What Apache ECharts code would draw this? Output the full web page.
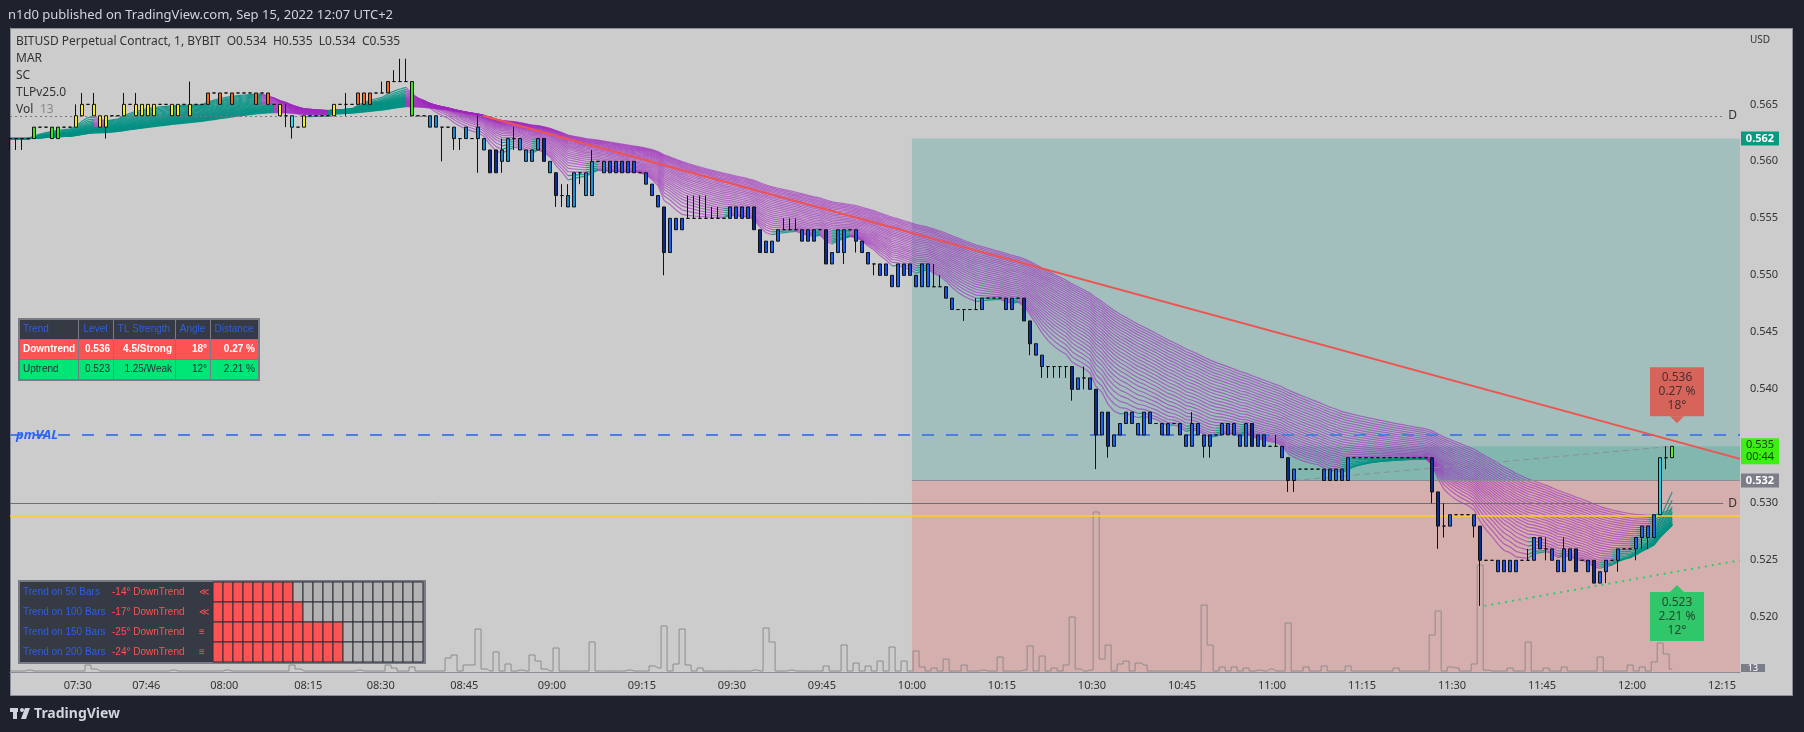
<!DOCTYPE html>
<html><head><meta charset="utf-8">
<script src="https://cdn.jsdelivr.net/npm/echarts@6/dist/echarts.min.js"></script>
<style>
html,body{margin:0;background:#1e222d;width:1804px;height:732px;overflow:hidden}
#frame{position:absolute;left:10px;top:28px;width:1781px;height:666px;background:#cccccc;border:1px solid #8a8d96}
#c{position:absolute;left:0;top:0;width:1804px;height:732px}
</style></head><body><div id="frame"></div><div id="c"></div>
<script>
// prices in thousandths of USD: [open, close, low?, high?]
const bars = [
[562,562,561,562],[562,562,561,562],[562,562,561,562],[562,562],[562,563],[563,563],[563,563],[562,563],[562,563],[563,563],
[563,563],[563,564,563,565],[564,565,564,566],[565,565],[565,564,564,566],[564,563],[564,563,562,564],[564,564],[564,564],[564,565,564,566],
[565,565],[564,565,564,566],[564,565],[564,565],[564,565],[565,565],[565,565],[564,565],[564,565],[565,565],
[564,565,564,567],[565,565],[565,565],[565,566],[566,566],[565,566],[566,566],[565,566],[566,566],[566,566],
[566,566],[565,566],[566,566],[566,565],[565,565],[565,564],[564,564,563,565],[564,563,562,564],[563,563],[564,563],
[564,564],[564,564],[564,564],[564,564],[564,565],[565,565],[565,565,564,566],[565,565],[565,566],[565,566],
[565,566],[566,566],[566,566,566,567],[566,567],[567,567,567,568],[567,567,567,569],[567,567,567,569],[567,564],[564,564],[564,564],
[564,563],[564,563],[563,563,560,563],[563,563],[563,562,561,563],[562,562,561,562],[563,562],[562,562],[563,562,559,564],[562,561],
[561,559],[561,559],[561,560,559,562],[560,562],[562,562,561,563],[562,561],[561,560],[561,560],[561,562],[562,560],
[560,559],[559,557,556,559],[557,557,556,558],[557,556,556,558],[556,559],[559,559,558,559],[557,559],[557,560,557,561],[560,560],[560,559],
[560,559],[560,559],[560,559],[560,559],[560,559],[559,559],[559,558],[558,557],[557,556,556,557],[556,552,550,556],
[552,555],[555,554],[555,554],[555,555,555,557],[555,555,555,557],[555,555,555,557],[555,555,555,557],[555,555,555,556],[555,555,555,556],[555,555],
[555,556],[556,555],[556,555],[556,555],[556,554],[554,552],[553,552],[552,553],[553,554],[554,554,554,555],
[554,554,554,555],[554,554,554,555],[554,553],[554,553],[554,553],[554,554],[554,551],[551,552],[552,554],[552,554,551,554],
[554,554],[554,553,552,554],[553,552],[552,551],[551,551,550,551],[551,550],[551,550],[550,549],[549,551],[551,550],
[551,550],[550,549],[549,551],[549,551],[549,549,549,551],[549,549,549,550],[549,548],[548,547],[547,547],[547,547,546,547],
[547,547],[547,547,547,548],[547,548],[548,548],[548,548],[548,548],[548,547],[548,547],[548,548],[548,546],
[546,544,543,546],[544,543],[543,542,541,543],[542,542,541,542],[542,542,541,542],[542,542,541,542],[542,542,541,542],[542,540,539,542],[540,541],[541,541,540,542],
[541,540],[540,536,533,540],[536,538],[538,535,534,538],[535,536],[536,537],[537,538],[538,537],[536,537],[536,538],
[538,537],[537,537],[537,536],[537,536],[537,537],[537,536],[536,535],[535,537,535,538],[537,536],[536,535,534,536],
[536,535,534,536],[536,536],[536,537],[537,536],[537,536],[536,535],[535,537],[537,535],[536,535],[536,535],
[535,535],[535,535,535,536],[535,534],[534,532,531,534],[532,533,531,533],[533,533],[533,533],[533,533],[533,533],[533,532],
[533,532],[532,533],[533,532],[532,534],[534,534],[534,534],[534,534],[534,534],[534,534],[534,534],
[534,534],[534,534],[534,534],[534,534],[534,534],[534,534],[534,534],[534,531,530,534],[531,528,526,531],[528,528,527,530],
[528,529],[529,529],[529,529],[529,529],[529,528,527,529],[528,525,521,528],[525,525],[525,525],[525,524],[525,524],
[524,525],[525,524],[525,525],[525,525,525,526],[525,527],[527,526],[526,526,525,527],[526,525],[525,524],[524,526,524,527],
[526,525],[526,524],[525,525],[525,524],[525,523],[523,524],[524,525,523,525],[525,525],[525,526,524,526],[526,526],
[526,526],[526,527,525,527],[527,528,526,528],[527,528,526,528],[527,529],[529,534],[534,534,533,535],[534,535]
];
// volume peaks [bar index, volume]; other bars ~1
const volPeaks = [[3,2],[13,7],[14,3],[27,2],[36,2],[47,7],[48,3],[58,2],[63,7],[64,4],[67,5],[73,14],[74,17],[76,7],[77,7],[78,43],[79,3],[81,20],[83,8],[85,2],[87,17],[88,11],[89,3],[91,24],[97,30],[103,2],[107,6],[108,4],[109,46],[111,8],[112,43],[113,7],[115,4],[124,2],[126,44],[127,30],[130,2],[136,6],[139,27],[141,9],[143,6],[145,11],[147,25],[149,11],[151,21],[152,5],[154,4],[156,13],[159,7],[162,2],[165,15],[169,2],[170,26],[172,16],[174,4],[176,7],[177,55],[178,3],[180,2],[181,160],[182,13],[183,27],[185,8],[186,11],[188,9],[189,7],[199,67],[200,27],[202,5],[204,5],[206,4],[208,2],[210,3],[213,49],[216,5],[219,6],[223,6],[231,4],[237,37],[238,61],[240,5],[241,4],[244,8],[245,107],[246,2],[250,4],[253,30],[256,4],[259,5],[265,15],[270,7],[272,5],[274,10],[275,29],[276,18],[277,3]];
const tickPos = [11.3,22.7,35.7,49.7,61.8,75.7,90.3,105.3,120.3,135.3,150.3,165.3,180.3,195.3,210.3,225.3,240.3,255.3,270.3,285.3];
const tickLabels = ['07:30','07:46','08:00','08:15','08:30','08:45','09:00','09:15','09:30','09:45','10:00','10:15','10:30','10:45','11:00','11:15','11:30','11:45','12:00','12:15'];
const priceTicks = [520,525,530,535,540,545,550,555,560,565];
const emaLens = [8,10,12,14,16,18,20,22,24,26,28,30,32,34,36,38,40,42,44,46,48,50,52,54,56,58,60];
const trendHead = ['Trend','Level','TL Strength','Angle','Distance'];
const trendDown = ['Downtrend','0.536','4.5/Strong','18°','0.27 %'];
const trendUp = ['Uptrend','0.523','1.25/Weak','12°','2.21 %'];
const multiNames = ['Trend on 50 Bars','Trend on 100 Bars','Trend on 150 Bars','Trend on 200 Bars'];
const multiVals = ['-14° DownTrend','-17° DownTrend','-25° DownTrend','-24° DownTrend'];
const multiSym = ['≪','≪','≡','≡'];
const multiRed = [8,9,13,13];

const YMIN=515.2, YMAX=571.7, XMAX=288.3;
const closes = bars.map(b=>b[1]);
const emas = emaLens.map(L=>{const a=2/(L+1);let e=closes[0];return closes.map(c=>(e=e+a*(c-e)));});
const vol = bars.map(()=>1); volPeaks.forEach(([i,v])=>vol[i]=v);

function barColor(i,o,c){
  if(i===275) return '#19d3ec'; if(i===277) return '#5cf21f';
  if(o===c) return '#111';
  if(i<68){ if(i===67) return '#3fe21a'; if(i===47) return '#22e0ee';
    const t=Math.max(o,c); return t>=566?'#f26a1b':(t>=564?'#f5ee1a':'#3fe21a'); }
  if(c>o) return i<100?'#1a8fd6':'#1a62f0';
  return (o-c)>=2?'#0b2a8f':(i<100?'#1585cc':'#1550e6');
}
const candleData = bars.map((b,i)=>{const o=b[0],c=b[1];const col=barColor(i,o,c);
  return {value:[i,o,c,b[2]??Math.min(o,c),b[3]??Math.max(o,c)],itemStyle:{color:col,color0:col,borderColor:'#111',borderColor0:'#111',borderWidth:1}};});

const F='"Noto Sans", "DejaVu Sans", sans-serif';
const FA='"Liberation Sans", Arial, sans-serif';
const chart = echarts.init(document.getElementById('c'),null,{renderer:'canvas'});
const opt = {
  animation:false,
  grid:{left:10,right:64,top:28,bottom:60,show:false},
  xAxis:{type:'value',min:0,max:XMAX,splitLine:{show:false},axisLine:{show:true,lineStyle:{color:'#8a8d96'}},axisTick:{show:false},
    axisLabel:{customValues:tickPos,formatter:v=>{const k=tickPos.findIndex(p=>Math.abs(p-v)<0.01);return k>=0?tickLabels[k]:'';},color:'#333',fontSize:11,fontFamily:F,margin:8,showMinLabel:true,showMaxLabel:true}},
  yAxis:[{type:'value',position:'right',min:YMIN,max:YMAX,splitLine:{show:false},axisLine:{show:true,lineStyle:{color:'#8a8d96'}},axisTick:{show:false},
    axisLabel:{customValues:priceTicks,formatter:v=>(v/1000).toFixed(3),color:'#333',fontSize:11,fontFamily:F,margin:10}},
    {type:'value',min:0,max:644,show:false}],
  series:[
    {type:'line',data:[[0,null]],silent:true,z:1,markArea:{silent:true,data:[
      [{coord:[150.3,562],itemStyle:{color:'#a2bfbd'}},{coord:[XMAX,532]}],
      [{coord:[150.3,532],itemStyle:{color:'#d5afad'}},{coord:[XMAX,YMIN]}],
      [{coord:[213,532],itemStyle:{color:'#82b7b0'}},{coord:[XMAX,535]}]]}},
    {type:'line',data:[[0,null]],silent:true,z:2,markLine:{silent:true,symbol:'none',label:{show:false},data:[
      [{coord:[0,564],lineStyle:{color:'#77787e',type:[2,3],width:1},label:{show:true,position:'end',formatter:'D',color:'#333',fontSize:12,fontFamily:F}},{coord:[285.5,564]}],
      [{coord:[150.3,532],lineStyle:{color:'#8a8d96',type:'solid',width:1}},{coord:[XMAX,532]}],
      [{coord:[0,530],lineStyle:{color:'#6e6e73',type:'solid',width:1},label:{show:true,position:'end',formatter:'D',color:'#333',fontSize:12,fontFamily:F}},{coord:[285.5,530]}],
      [{coord:[0,528.9],lineStyle:{color:'#ffd11a',type:'solid',width:1.5}},{coord:[XMAX,528.9]}],
      [{coord:[0,536],lineStyle:{color:'#4a7fe0',type:[12,12],width:2}},{coord:[XMAX,536]}],
      [{coord:[78.8,564],lineStyle:{color:'#ef5350',type:'solid',width:2}},{coord:[XMAX,533.9]}],
      [{coord:[245.7,521],lineStyle:{color:'#2ecc71',type:[2,5],width:2}},{coord:[XMAX,525]}],
      [{coord:[214,532],lineStyle:{color:'#8d8f94',type:[6,4],width:1}},{coord:[277,535]}]]}},
    {type:'line',yAxisIndex:1,data:vol.map((v,i)=>[i,v]),step:'middle',showSymbol:false,silent:true,z:3,lineStyle:{color:'#8c8c8f',width:1}},
    {type:'custom',z:4,silent:true,data:bars.map((b,i)=>[i]),renderItem:(p,api)=>{const i=api.value(0);if(i<1)return;const ch=[];
      for(let k=emas.length-1;k>=0;k--){const a=api.coord([i-1,emas[k][i-1]]),b=api.coord([i,emas[k][i]]);const up=emas[k][i]>=emas[k][i-1]-1e-6;
        ch.push({type:'line',shape:{x1:a[0],y1:a[1],x2:b[0],y2:b[1]},style:{stroke:up?'rgba(0,145,130,0.85)':'rgba(160,40,190,0.62)',lineWidth:1.2}});}
      return {type:'group',children:ch};}},
    {type:'candlestick',z:5,data:candleData,encode:{x:0,y:[1,2,3,4]},barWidth:4}
  ]
};
chart.setOption(opt);

const px = (x,y)=>chart.convertToPixel({gridIndex:0},[x,y]);
const g = [];
const T=(x,y,text,o={})=>g.push({type:'text',x,y,style:Object.assign({text,fill:'#333',font:'12px '+F,textVerticalAlign:'middle'},o)});
const R=(x,y,w,h,fill,o={})=>g.push({type:'rect',shape:{x,y,width:w,height:h},style:Object.assign({fill},o)});
// header & footer
T(8,15,'n1d0 published on TradingView.com, Sep 15, 2022 12:07 UTC+2',{fill:'#d1d4dc',font:'13px '+F});
R(10,708,8,4,'#d1d4dc');R(13,708,4,11,'#d1d4dc');g.push({type:'circle',shape:{cx:22,cy:710,r:2},style:{fill:'#d1d4dc'}});
g.push({type:'polygon',shape:{points:[[25,708],[30,708],[26,719],[21,719]]},style:{fill:'#d1d4dc'}});
T(34,714,'TradingView',{fill:'#d1d4dc',font:'bold 14px '+F});
// legend
T(16,42,'BITUSD Perpetual Contract, 1, BYBIT  O0.534  H0.535  L0.534  C0.535');
T(16,59,'MAR');T(16,76,'SC');T(16,93,'TLPv25.0');T(16,110,'Vol');T(40,110,'13',{fill:'#888'});
T(1750,40,'USD',{font:'10px '+F});
// pmVAL
T(16,px(0,536)[1],'pmVAL',{fill:'#2962ff',font:'italic bold 13px '+F});
// trend table
const cx=[20,78,113,175,210,258], ry=[320,339,359,379];
R(18,318,242,63,'#787b86');
[[trendHead,'#363a45','#2f5ee0',''],[trendDown,'#ff5252','#fff','bold '],[trendUp,'#00e676','#2a2e39','']].forEach((row,r)=>{
  row[0].forEach((t,k)=>{R(cx[k]+(k?1:0),ry[r]+(r?1:0),cx[k+1]-cx[k]-(k?1:0),ry[r+1]-ry[r]-(r?1:0),row[1]);
    if(r===0) T(k===0?cx[k]+3:(cx[k]+cx[k+1])/2,(ry[r]+ry[r+1])/2,t,{fill:row[2],font:row[3]+'10px '+FA,textAlign:k===0?'left':'center'});
    else T(k===0?cx[k]+3:cx[k+1]-3,(ry[r]+ry[r+1])/2,t,{fill:row[2],font:row[3]+'10px '+FA,textAlign:k===0?'left':'right'});});});
// multi trend table
R(18,580,408,84,'#787b86');
multiNames.forEach((n,r)=>{const y=582+r*20;R(20,y,193,20,'#363a45');
  T(23,y+10,n,{fill:'#2f5ee0',font:'10px '+FA});T(112,y+10,multiVals[r],{fill:'#ff5252',font:'10px '+FA});T(199,y+10,multiSym[r],{fill:'#ff5252',font:'10px '+FA});
  for(let k=0;k<21;k++) R(213+k*10,y,10,20,k<multiRed[r]?'#ff5252':'#b2b2b2',{stroke:'#2a2e39',lineWidth:1});});
// callouts
const tip1=px(277.8,536.4), tip2=px(277.8,523);
R(tip1[0]-27,tip1[1]-63,54,49,'#d6645b',{r:3} );
g.push({type:'polygon',shape:{points:[[tip1[0]-7,tip1[1]-14],[tip1[0]+7,tip1[1]-14],[tip1[0],tip1[1]-7]]},style:{fill:'#d6645b'}});
['0.536','0.27 %','18°'].forEach((t,k)=>T(tip1[0],tip1[1]-53+k*14,t,{textAlign:'center',fill:'#4a3030',font:'12px '+F}));
R(tip2[0]-27,tip2[1]+9,54,49,'#2fc76a',{r:3});
g.push({type:'polygon',shape:{points:[[tip2[0]-7,tip2[1]+9],[tip2[0]+7,tip2[1]+9],[tip2[0],tip2[1]+2]]},style:{fill:'#2fc76a'}});
['0.523','2.21 %','12°'].forEach((t,k)=>T(tip2[0],tip2[1]+19+k*14,t,{textAlign:'center',fill:'#1f4a2e',font:'12px '+F}));
// price axis badges
const y562=px(0,562)[1], y535=px(0,535)[1], y532=px(0,532)[1];
R(1741,y562-7,38,14,'#089981');T(1760,y562,'0.562',{fill:'#fff',font:'bold 11px '+F,textAlign:'center'});
R(1741,y535-8,38,26,'#3bf012');T(1760,y535-1,'0.535',{fill:'#1a3a10',font:'11px '+F,textAlign:'center'});T(1760,y535+11,'00:44',{fill:'#1a3a10',font:'11px '+F,textAlign:'center'});
R(1741,y532-7,38,14,'#7b7e88');T(1760,y532,'0.532',{fill:'#fff',font:'bold 11px '+F,textAlign:'center'});
R(1741,664,24,8,'#7b7e88');T(1753,668,'13',{fill:'#fff',font:'9px '+F,textAlign:'center'});
chart.setOption({graphic:{elements:g.map(e=>Object.assign({z:100},e))}});
</script></body></html>
